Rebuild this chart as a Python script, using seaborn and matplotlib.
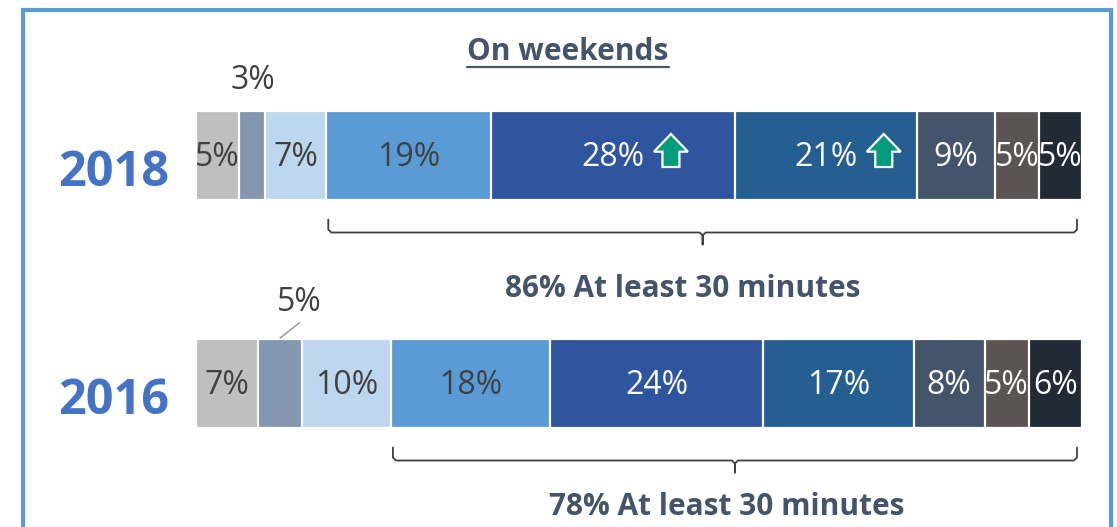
import numpy as np
import pandas as pd
import matplotlib
matplotlib.use("Agg")
import matplotlib.pyplot as plt
import seaborn as sns
from matplotlib.patches import Polygon, Rectangle
from matplotlib.lines import Line2D

# ---- data -------------------------------------------------------------
years = ["2018", "2016"]
values_2018 = [5, 3, 7, 19, 28, 21, 9, 5, 5]
values_2016 = [7, 5, 10, 18, 24, 17, 8, 5, 6]
segment_colors = ["#BFBFBF", "#8497B0", "#BDD7EE", "#5B9BD5", "#2F559E",
                  "#255E91", "#44546A", "#5A5553", "#222A35"]
label_colors = ["#404040"] * 4 + ["white"] * 5
summary_labels = ["86% At least 30 minutes", "78% At least 30 minutes"]
title = "On weekends"
long_start = 3                     # first segment counted as "at least 30 minutes"
rising_segments = {"2018": [4, 5]}  # segments marked with an up arrow
outside_segment = 1                # small segment labelled above the bar

rows = []
for year, vals in zip(years, [values_2018, values_2016]):
    vals = np.asarray(vals, dtype=float)
    share = vals / vals.sum() * 100
    end = np.cumsum(share)
    start = end - share
    for k, (v, s, a, b) in enumerate(zip(vals, share, start, end)):
        rows.append(dict(year=year, seg=k, value=int(v), share=s, start=a, end=b))
df = pd.DataFrame(rows)

# ---- figure geometry (pixel helpers) ----------------------------------
W, H, DPI = 1117, 527, 100
BAR_X0, BAR_X1 = 196, 1082
ROW_Y = [155, 383]
PX_X = (BAR_X1 - BAR_X0) / 100.0
PX_Y = ROW_Y[1] - ROW_Y[0]

def dx(px):
    return px / PX_X

def dy(px):
    return px / PX_Y

sns.set_theme(style="white")
plt.rcParams["font.family"] = ["Open Sans", "DejaVu Sans"]

fig = plt.figure(figsize=(W / DPI, H / DPI), dpi=DPI)
ax = fig.add_axes([0, 0, 1, 1])

# stacked bars: cumulative ends drawn from longest to shortest
for k in reversed(range(len(segment_colors))):
    sub = df[df.seg == k]
    sns.barplot(data=sub, x="end", y="year", order=years, orient="h",
                color=segment_colors[k], saturation=1, edgecolor="white",
                linewidth=1.6, width=dy(89), errorbar=None, ax=ax)

ax.set_xlim(-BAR_X0 / PX_X, 100 + (W - BAR_X1) / PX_X)
ax.set_ylim(1 + (H - ROW_Y[1]) / PX_Y, -ROW_Y[0] / PX_Y)
ax.axis("off")

pct_font = dict(fontsize=23, fontweight="normal", family=["Open Sans", "DejaVu Sans"])

for r, year in enumerate(years):
    sub = df[df.year == year].sort_values("seg")
    for _, row in sub.iterrows():
        k = int(row.seg)
        cx = (row.start + row.end) / 2
        txt = f"{row.value}%"
        if k == outside_segment:
            if r == 0:
                ax.text(cx, r - dy(75), txt, ha="center", va="center",
                        color="#404040", **pct_font)
            else:
                ax.add_line(Line2D([cx, cx + dx(19)], [r - dy(45), r - dy(60)],
                                   color="#A6A6A6", lw=1.3))
                ax.text(cx + dx(19), r - dy(81), txt, ha="center", va="center",
                        color="#404040", **pct_font)
            continue
        ax.text(cx, r + dy(2), txt, ha="center", va="center",
                color=label_colors[k], **pct_font)
        if k in rising_segments.get(year, []):
            ax_c, ay_c = cx + dx(58), r - dy(4.5)
            shape = [(0, -16.5), (17, 1.2), (8.5, 1.2), (8.5, 16.5),
                     (-8.5, 16.5), (-8.5, 1.2), (-17, 1.2)]
            pts = [(ax_c + dx(px), ay_c + dy(py)) for px, py in shape]
            ax.add_patch(Polygon(pts, closed=True, facecolor="#009B7D",
                                 edgecolor="white", lw=1.6, zorder=5))

    # brace under the "at least 30 minutes" segments
    x0 = sub[sub.seg == long_start].start.iloc[0] + dx(2)
    x1 = sub.end.iloc[-1] - dx(5)
    xm = (x0 + x1) / 2
    base = r + dy(44.5)
    top, line, tick, c = base + dy(20), base + dy(33), base + dy(45), dy(3)
    bx = [x0, x0, x0 + dx(3), xm - dx(3), xm, xm, xm, xm + dx(3), x1 - dx(3), x1, x1]
    by = [top, line - c, line, line, line + c, tick, line + c, line, line, line - c, top]
    ax.add_line(Line2D(bx, by, color="#404040", lw=1.3))

# year labels
for r, year in enumerate(years):
    fig.text(114 / W, 1 - (ROW_Y[r] + 19) / H, year, ha="center", va="center",
             fontsize=35, fontweight="bold", color="#4472C4")

# summary labels below the braces
for txt, (px, py) in zip(summary_labels, [(683, 289), (727, 507)]):
    fig.text(px / W, 1 - py / H, txt, ha="center", va="center",
             fontsize=21.5, fontweight="bold", color="#44546A")

# underlined title
t = fig.text(568 / W, 1 - 52 / H, title, ha="center", va="center",
             fontsize=21.5, fontweight="bold", color="#44546A")
fig.canvas.draw()
bb = t.get_window_extent()
uy = H - 67
fig.add_artist(Line2D([bb.x0 / W, bb.x1 / W], [uy / H, uy / H],
                      color="#44546A", lw=1.6, transform=fig.transFigure))

# outer frame
fig.add_artist(Rectangle((23 / W, -0.05), (1111 - 23) / W, 1 - 10 / H + 0.05,
                         transform=fig.transFigure, fill=False,
                         edgecolor="#5B9BD5", lw=3, clip_on=False))

fig.savefig("out.png", dpi=DPI)
